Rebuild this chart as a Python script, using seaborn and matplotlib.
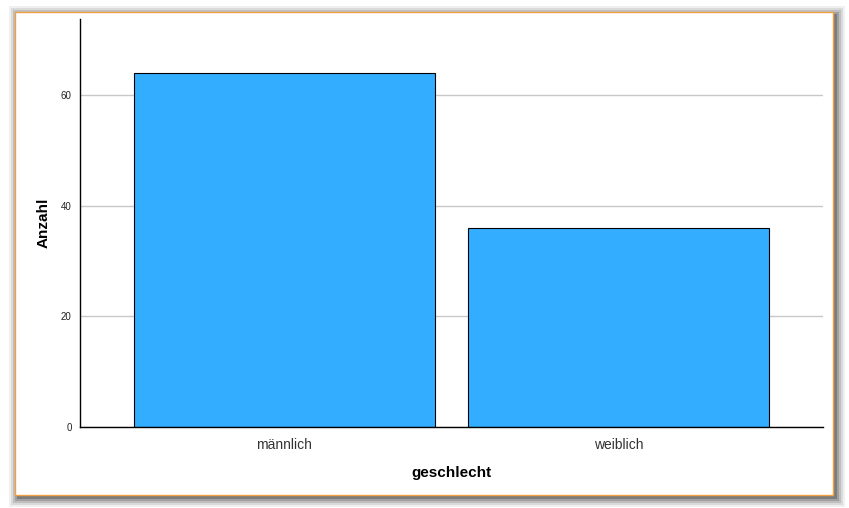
import matplotlib
matplotlib.use("Agg")
import matplotlib.pyplot as plt
from matplotlib.patches import Rectangle
import pandas as pd
import seaborn as sns

# data
categories = ["männlich", "weiblich"]
counts = [64, 36]
y_ticks = [0, 20, 40, 60]

df = pd.DataFrame({"geschlecht": categories, "Anzahl": counts})

sns.set_style("white")
plt.rcParams["font.family"] = ["Liberation Sans", "DejaVu Sans"]

fig = plt.figure(figsize=(8.49, 5.08), dpi=100)
W, H = 849, 508

# soft shadow around the panel
for i, a in enumerate([0.06, 0.09, 0.12, 0.16, 0.22]):
    pad = 9 - i * 2
    fig.patches.append(Rectangle(((15 - pad + 3) / W, 1 - (495 + pad + 3) / H),
                                 (818 + 2 * pad) / W, (483 + 2 * pad) / H,
                                 transform=fig.transFigure, facecolor="black",
                                 alpha=a, edgecolor="none", zorder=0))
# white panel with orange border
fig.patches.append(Rectangle((15 / W, 1 - 495 / H), 818 / W, 483 / H,
                             transform=fig.transFigure, facecolor="white",
                             edgecolor="#f0a040", linewidth=1.0, zorder=1))

ax = fig.add_axes([80 / W, 1 - 427 / H, 743 / W, 408 / H])
ax.set_zorder(2)
ax.patch.set_alpha(0)

sns.barplot(data=df, x="geschlecht", y="Anzahl", color="#33adff",
            saturation=1, width=0.9, edgecolor="black", linewidth=0.8, ax=ax)

ax.set_xlim(-0.611, 1.611)
ax.set_ylim(0, 73.7)
ax.set_yticks(y_ticks)
ax.yaxis.grid(True, color="#c8c8c8", linewidth=1)
ax.set_axisbelow(True)

for s in ["top", "right"]:
    ax.spines[s].set_visible(False)
ax.spines["left"].set_color("black")
ax.spines["bottom"].set_color("black")
ax.spines["left"].set_linewidth(1)
ax.spines["bottom"].set_linewidth(1)

ax.tick_params(axis="y", length=0, labelsize=7, pad=6, labelcolor="#222222")
ax.tick_params(axis="x", length=0, labelsize=10, pad=8, labelcolor="#333333")
ax.set_xlabel("geschlecht", fontsize=11, fontweight="bold", labelpad=10,
              color="black")
ax.set_ylabel("Anzahl", fontsize=11, fontweight="bold", labelpad=7,
              color="black")

fig.savefig("out.png", dpi=100)
